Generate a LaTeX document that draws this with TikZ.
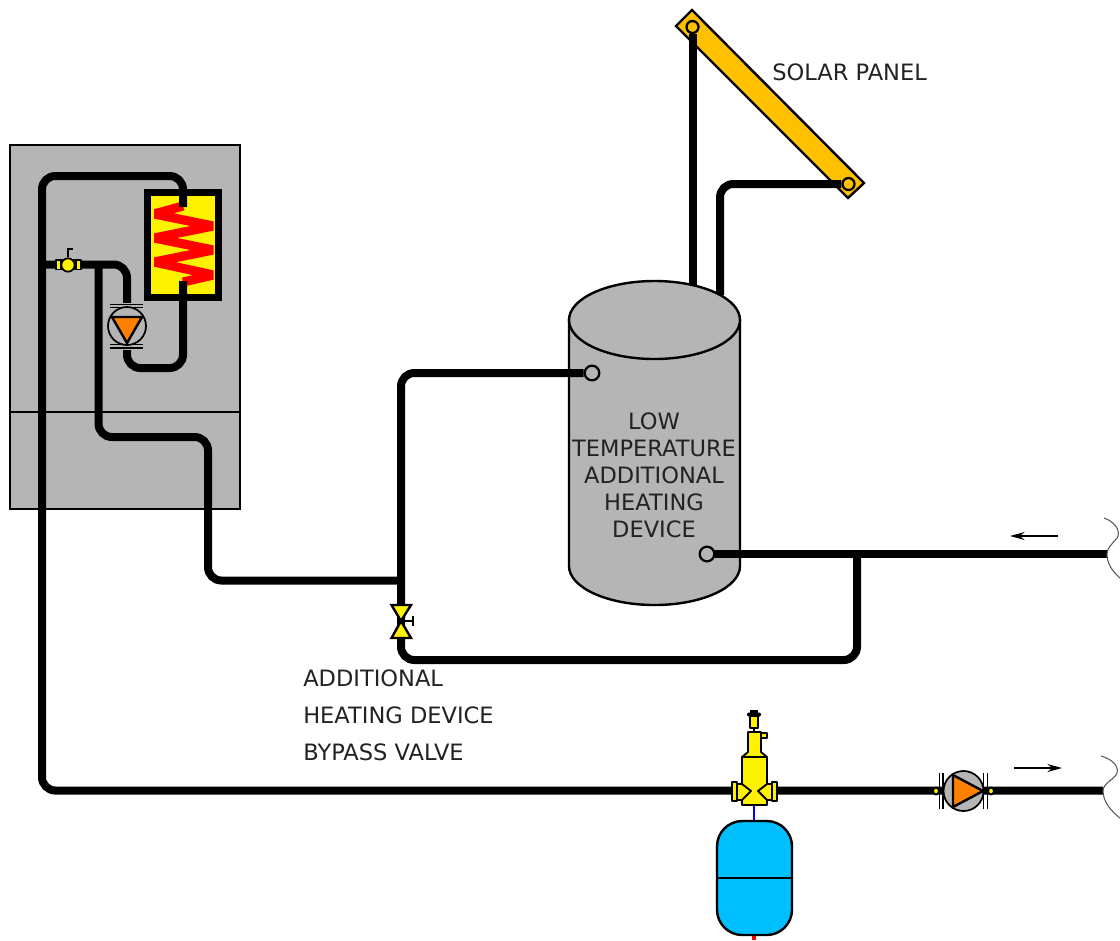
\documentclass[tikz,border=0pt]{standalone}
\usepackage{fontspec}
\setmainfont{DejaVu Sans}
\usetikzlibrary{arrows.meta}
\definecolor{gbody}{HTML}{B5B5B5}
\definecolor{solar}{HTML}{FFC000}
\definecolor{pumpor}{HTML}{FF8000}
\definecolor{vessel}{HTML}{00BFFF}
\definecolor{lab}{HTML}{222222}
\tikzset{
 pipe/.style={draw=black,line width=6pt,rounded corners=10pt},
 part/.style={draw=black,line width=1.8pt,line join=miter},
 thin part/.style={draw=black,line width=1.4pt,line join=round},
 port/.style={circle,draw=black,inner sep=0pt,minimum size=11pt,line width=1.7pt},
 pumpbody/.style={circle,draw=black,fill=gbody,inner sep=0pt,line width=1.3pt},
 breakline/.style={draw=black!65,line width=.8pt},
 flow/.style={draw=black,line width=1pt,-{Stealth[length=11pt,width=6pt]}},
 lbl/.style={text=lab,inner sep=0pt,font=\fontsize{16.9}{20.25}\selectfont},
 bypass/.style={text=lab,inner sep=0pt,align=left,font=\fontsize{16.9}{27.75}\selectfont}
}
\begin{document}
\begin{tikzpicture}[x=0.75pt,y=-0.75pt]
\useasboundingbox (0,0) rectangle (1120,940);
% boiler cabinet
\draw[part,fill=gbody] (10,145) rectangle (240,509);
\draw[part] (10,412) -- (240,412);
% heat exchanger
\draw[draw=black,line width=5.25pt,fill=yellow] (147.5,192.5) rectangle (218.5,297);
\begin{scope}
\clip (154,198) rectangle (213.5,290);
\draw[draw=red,line width=6.8pt,line join=miter] (183,206) -- (154,214) -- (213.5,226) -- (154,238) -- (213.5,250) -- (154,262) -- (213.5,275) -- (183,282);
\end{scope}
% named joints
\coordinate (hxin) at (183,207);
\coordinate (hxout) at (183,281);
\coordinate (c1) at (183,176);
\coordinate (c2) at (42,176);
\coordinate (c3) at (42,790.5);
\coordinate (c4) at (183,368);
\coordinate (c5) at (127,368);
\coordinate (c6) at (127,264.5);
\coordinate (c7) at (42,264.5);
\coordinate (tee1) at (98.5,264.5);
\coordinate (c8) at (98.5,437);
\coordinate (c9) at (208,437);
\coordinate (c10) at (208,580.5);
\coordinate (tee2) at (401,580.5);
\coordinate (c11) at (401,373);
\coordinate (c12) at (401,660);
\coordinate (c13) at (857,660);
\coordinate (tee3) at (857,554);
\coordinate (endA) at (1107,554);
\coordinate (endB) at (1103,790.5);
\coordinate (s1) at (692.5,288);
\coordinate (s2) at (720,295);
\coordinate (s3) at (720,184);
% solar panel
\draw[part,fill=solar] (692,10) -- (676,26) -- (848,198) -- (864,183) -- cycle;
\node[anchor=west,lbl] (solarlabel) at (772,72) {SOLAR PANEL};
% solar pipes (behind tank, over panel)
\node[port,minimum size=9pt,fill=solar] (sp1) at (692.5,27) {};
\node[port,minimum size=9pt,fill=solar] (sp2) at (848.5,184) {};
\draw[pipe] (sp1.south) -- (s1);
\draw[pipe] (sp2.west) -- (s3) -- (s2);
% tank
\draw[part,fill=gbody] (569,320) -- (569,566) arc[start angle=180,end angle=0,x radius=85.5,y radius=39] -- (740,320) -- cycle;
\draw[part,fill=gbody] (654.5,320) ellipse (85.5 and 39);
\node[lbl,align=center] (tanklabel) at (654,475) {LOW\\TEMPERATURE\\ADDITIONAL\\HEATING\\DEVICE};
% tank ports
\node[port,fill=gbody] (tp1) at (592,373) {};
\node[port,fill=gbody] (tp2) at (707,554) {};
% pipes
\draw[pipe] (hxin) -- (c1) -- (c2) -- (c3) -- (endB);
\draw[pipe] (hxout) -- (c4) -- (c5) -- (c6) -- (c7);
\draw[pipe] (tee1) -- (c8) -- (c9) -- (c10) -- (tee2);
\draw[pipe] (tp1.west) -- (c11) -- (c12) -- (c13) -- (tee3);
\draw[pipe] (tp2.east) -- (endA);
% boiler valve
\draw[thin part,fill=yellow] (56,260) rectangle (81,269.5);
\fill[black] (60,260) rectangle (62.5,269.5);
\fill[black] (74.5,260) rectangle (77,269.5);
\node[circle,draw=black,fill=yellow,inner sep=0pt,minimum size=10pt,line width=1.3pt] (bv) at (68,265) {};
\draw[draw=black,line width=1pt] (bv.north) -- (68,249) -- (73,249);
% pump 1
\fill[gbody] (110,303) rectangle (143,312);
\fill[gbody] (110,341) rectangle (143,350);
\node[pumpbody,minimum size=28.5pt] (p1) at (127,326) {};
\draw[part,fill=pumpor] (112,317) -- (142,317) -- (127,343) -- cycle;
\draw[draw=black,line width=1.1pt] (110,304.5) -- (143,304.5) (110,307.5) -- (143,307.5) (110,344.5) -- (143,344.5) (110,348) -- (143,348);
% bypass valve
\draw[part,fill=yellow] (391.5,605) -- (411,605) -- (401,621) -- (391.5,638) -- (411,638) -- (401,621) -- cycle;
\draw[draw=black,line width=1.1pt] (401,621) -- (413,621) (413,616) -- (413,626);
\node[bypass,anchor=north west] (bypasslabel) at (303,669) {ADDITIONAL\\HEATING DEVICE\\BYPASS VALVE};
% air separator
\draw[draw=blue,line width=2pt] (754,805) -- (754,822);
\draw[thin part,fill=yellow] (748,732) -- (761,732) -- (761,752) -- (767,757) -- (767,805) -- (742,805) -- (742,757) -- (748,752) -- cycle;
\draw[thin part] (742,757) -- (767,757);
\draw[thin part,fill=yellow] (761,733) rectangle (767,738);
\draw[thin part,fill=yellow] (750,716) rectangle (758,728);
\draw[draw=black,line width=.9pt] (754,728) -- (754,732);
\fill[black,rounded corners=1pt] (747,712.5) rectangle (761,716.5);
\fill[black] (750,709.5) rectangle (758,713);
\draw[thin part,fill=yellow] (736,784) -- (742,784) -- (751,791) -- (742,800) -- (736,800) -- cycle;
\draw[thin part,fill=yellow] (772,784) -- (767,784) -- (758,791) -- (767,800) -- (772,800) -- cycle;
\draw[thin part,fill=yellow] (732,782) rectangle (737,801);
\draw[thin part,fill=yellow] (772,782) rectangle (777,801);
% expansion vessel
\draw[draw=red,line width=2.4pt] (754,932) -- (754,940);
\draw[part,fill=vessel,rounded corners=19pt] (717,821) rectangle (792,935);
\draw[part] (717,878) -- (792,878);
% pump 2
\node[pumpbody,minimum size=30pt] (p2) at (963.5,791) {};
\draw[part,fill=pumpor] (953,775) -- (953,807) -- (983,791) -- cycle;
\draw[draw=black,line width=1.2pt] (939.5,773) -- (939.5,809) (943,773) -- (943,809) (983.5,773) -- (983.5,809) (987.5,773) -- (987.5,809);
\draw[thin part,fill=yellow] (936,791) ellipse (3 and 3.5);
\draw[thin part,fill=yellow] (991,791) ellipse (3 and 3.5);
% pipe breaks
\draw[breakline] (1104,518) .. controls (1116,522) and (1121,532) .. (1117,538) .. controls (1112,544) and (1107,548) .. (1107,554) .. controls (1107,564) and (1113,572) .. (1120,578);
\draw[breakline] (1101,756) .. controls (1112,759) and (1119,766) .. (1117,773) .. controls (1114,780) and (1103,783) .. (1103,791) .. controls (1103,802) and (1112,812) .. (1120,818);
% flow arrows
\coordinate (fa1) at (1058,536);
\coordinate (fa2) at (1010,536);
\coordinate (fb1) at (1014,768);
\coordinate (fb2) at (1062,768);
\draw[flow] (fa1) -- (fa2);
\draw[flow] (fb1) -- (fb2);
\end{tikzpicture}
\end{document}
